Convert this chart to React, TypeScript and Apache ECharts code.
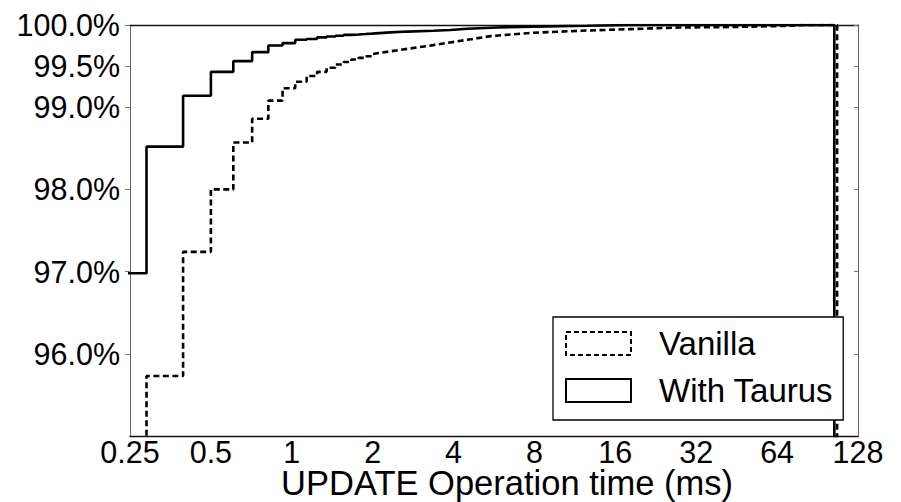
import React, { useEffect, useRef } from "react";
import * as echarts from "echarts";

// Histogram bin edges (ms) for the fine, visibly stepped part of the CDF
const binEdges = [0.182, 0.288, 0.394, 0.5, 0.606, 0.712, 0.818, 0.924, 1.03, 1.136, 1.242, 1.348, 1.454, 1.56, 1.666, 1.772, 1.878, 1.984];
// Cumulative percentage for the bin starting at each edge
const taurusBins = [96.98, 98.52, 99.14, 99.43, 99.56, 99.67, 99.75, 99.78, 99.82, 99.83, 99.85, 99.86, 99.87, 99.88, 99.885, 99.89, 99.895, 99.9];
const vanillaBins = [94.5, 95.73, 97.24, 98.0, 98.57, 98.86, 99.08, 99.23, 99.31, 99.38, 99.43, 99.48, 99.52, 99.55, 99.58, 99.6, 99.62, 99.645];

// Tail of the CDF (bins too narrow to show as steps)
const taurusTailX = [2.33, 2.69, 3.36, 3.89, 4.5, 5.8, 7.9, 12.6, 18];
const taurusTailY = [99.91, 99.92, 99.93, 99.94, 99.955, 99.97, 99.98, 99.99, 100];
const vanillaTailX = [2.33, 2.69, 3.36, 4.5, 5.5, 7.9, 11.9, 18.2, 28, 43, 72, 80];
const vanillaTailY = [99.68, 99.71, 99.755, 99.82, 99.865, 99.905, 99.93, 99.95, 99.97, 99.975, 99.99, 100];

// Last histogram edge (where the step outline closes back to zero)
const taurusMax = 104.5;
const vanillaMax = 107;

const yTicks = [96, 97, 98, 99, 99.5, 100];
const seriesNames = ["Vanilla", "With Taurus"];

function buildOutline(bins: number[], tailX: number[], tailY: number[], maxEdge: number) {
  const pts: number[][] = [];
  for (let k = 0; k < binEdges.length; k++) {
    if (k > 0) pts.push([binEdges[k], bins[k - 1]]);
    pts.push([binEdges[k], bins[k]]);
  }
  for (let i = 0; i < tailX.length; i++) pts.push([tailX[i], tailY[i]]);
  pts.push([maxEdge, 100]);
  pts.push([maxEdge, 0]);
  return pts;
}

const FONT = "'Liberation Sans', Arial, Helvetica, sans-serif";

export default function App() {
  const ref = useRef<HTMLDivElement>(null);
  useEffect(() => {
    if (!ref.current) return;
    const chart = echarts.init(ref.current, undefined, { renderer: "svg" });
    const fmtX = (v: number) => String(Number(v.toPrecision(4)));
    chart.setOption({
      animation: false,
      backgroundColor: "#ffffff",
      textStyle: { fontFamily: FONT, color: "#000" },
      grid: { left: 130, right: 43, top: 25, bottom: 66, containLabel: false, outerBoundsMode: "none" },
      xAxis: [
        {
          type: "log",
          logBase: 2,
          min: 0.25,
          max: 128,
          position: "bottom",
          name: "UPDATE Operation time (ms)",
          nameLocation: "middle",
          nameGap: 32,
          nameMoveOverlap: false,
          nameTextStyle: { fontSize: 34.5, lineHeight: 30, color: "#000", fontFamily: FONT, padding: [0, 0, 0, 26] },
          axisLine: { show: true, lineStyle: { color: "#111", width: 1.3 } },
          axisTick: { show: false },
          splitLine: { show: false },
          minorTick: { show: false },
          axisLabel: { fontSize: 30.5, lineHeight: 26, color: "#000", fontFamily: FONT, margin: 3, formatter: fmtX },
        },
        {
          type: "log",
          logBase: 2,
          min: 0.25,
          max: 128,
          position: "top",
          axisLine: { show: true, lineStyle: { color: "#111", width: 1.3 } },
          axisTick: { show: false },
          axisLabel: { show: false },
          splitLine: { show: false },
        },
      ],
      yAxis: [
        {
          type: "value",
          min: 95,
          max: 100,
          position: "left",
          axisLine: { show: true, lineStyle: { color: "#666", width: 1 } },
          axisTick: { show: true, inside: false, length: 5, customValues: yTicks, lineStyle: { color: "#777" } },
          splitLine: { show: false },
          axisLabel: {
            fontSize: 30.5,
            color: "#000",
            fontFamily: FONT,
            margin: 10,
            customValues: yTicks,
            formatter: (v: number) => v.toFixed(1) + "%",
          },
        },
        {
          type: "value",
          min: 95,
          max: 100,
          position: "right",
          axisLine: { show: true, lineStyle: { color: "#666", width: 1 } },
          axisTick: { show: true, inside: true, length: 4, customValues: yTicks, lineStyle: { color: "#777" } },
          axisLabel: { show: false },
          splitLine: { show: false },
        },
      ],
      legend: {
        orient: "vertical",
        left: 553,
        top: 317,
        padding: [10, 10, 13, 12],
        itemWidth: 65,
        itemHeight: 23,
        itemGap: 14,
        backgroundColor: "#fff",
        borderColor: "#000",
        borderWidth: 1.3,
        borderRadius: 0,
        textStyle: { fontSize: 33, color: "#000", fontFamily: FONT, padding: [0, 0, 0, 23] },
        data: [
          {
            name: seriesNames[0],
            icon: "rect",
            itemStyle: { color: "#fff", borderColor: "#000", borderWidth: 2, borderType: [5, 3] },
          },
          {
            name: seriesNames[1],
            icon: "rect",
            itemStyle: { color: "#fff", borderColor: "#000", borderWidth: 2, borderType: "solid" },
          },
        ],
      },
      series: [
        {
          name: seriesNames[1],
          type: "line",
          xAxisIndex: 0,
          yAxisIndex: 0,
          data: buildOutline(taurusBins, taurusTailX, taurusTailY, taurusMax),
          showSymbol: false,
          symbol: "none",
          clip: true,
          lineStyle: { color: "#000", width: 2.6, type: "solid" },
          itemStyle: { color: "#000" },
        },
        {
          name: seriesNames[0],
          type: "line",
          xAxisIndex: 0,
          yAxisIndex: 0,
          data: buildOutline(vanillaBins, vanillaTailX, vanillaTailY, vanillaMax),
          showSymbol: false,
          symbol: "none",
          clip: true,
          lineStyle: { color: "#000", width: 2.6, type: [6, 3.5] },
          itemStyle: { color: "#000" },
        },
      ],
    });
    return () => chart.dispose();
  }, []);
  return <div ref={ref} style={{ position: "fixed", left: 0, top: 0, width: 901, height: 502 }} />;
}
